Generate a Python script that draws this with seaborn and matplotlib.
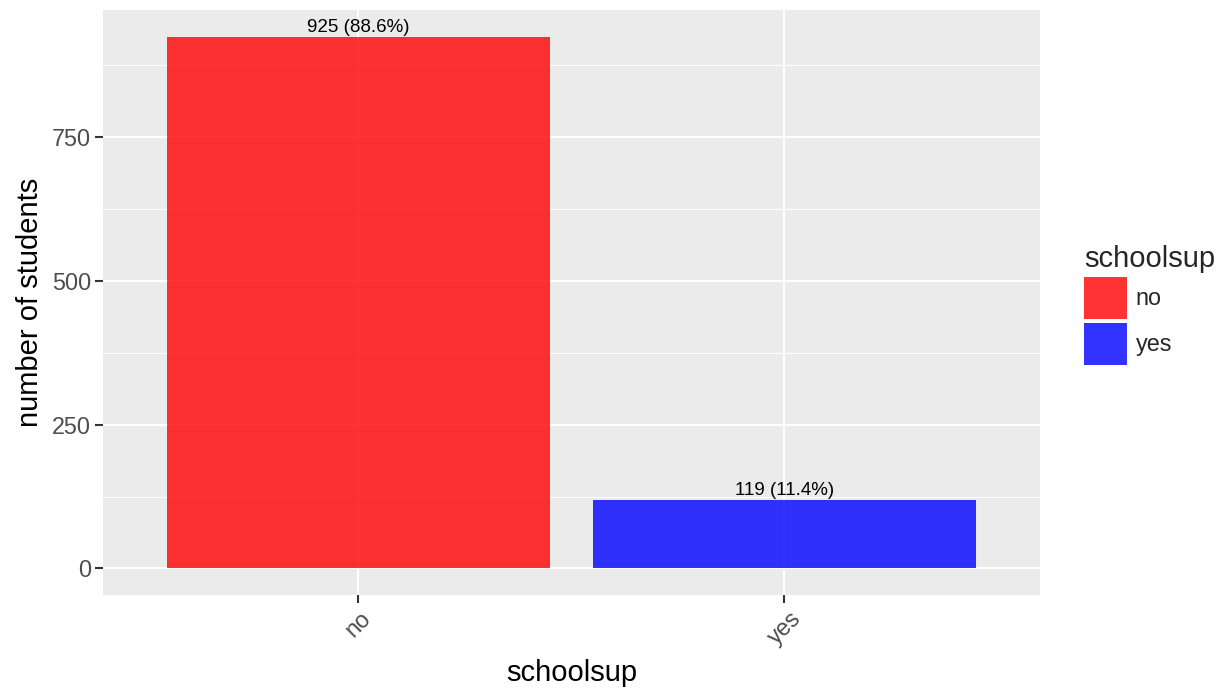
import matplotlib
matplotlib.use("Agg")
import matplotlib.pyplot as plt
from matplotlib.patches import Patch
from matplotlib.ticker import MultipleLocator
import seaborn as sns

# dados
categories = ["no", "yes"]
counts = [925, 119]
colors = {"no": "red", "yes": "blue"}

sns.set_theme(style="white")
plt.rcParams["font.family"] = ["Liberation Sans", "DejaVu Sans"]

total = sum(counts)
labels = [f"{c} ({c / total * 100:.1f}%)" for c in counts]

fig = plt.figure(figsize=(12.25, 6.89), dpi=100)
ax = fig.add_axes([0.084, 0.1364, 0.765, 0.8491])

sns.barplot(x=categories, y=counts, hue=categories, palette=colors,
            alpha=0.8, width=0.9, saturation=1, legend=False,
            linewidth=0, ax=ax)

for bar, lab in zip(ax.patches, labels):
    ax.text(bar.get_x() + bar.get_width() / 2, bar.get_height() + 1, lab,
            ha="center", va="bottom", fontsize=13.5, color="black")

ax.set_facecolor("#EBEBEB")
for s in ax.spines.values():
    s.set_visible(False)
ax.set_axisbelow(True)
ax.yaxis.set_major_locator(MultipleLocator(250))
ax.yaxis.set_minor_locator(MultipleLocator(125))
ax.grid(which="major", color="white", linewidth=1.5)
ax.grid(which="minor", axis="y", color="white", linewidth=0.75)
ax.set_ylim(-46.25, 971.25)
ax.set_xlim(-0.6, 1.6)

ax.tick_params(axis="both", which="major", length=5.5, width=1.5, color="#333333",
               labelsize=16.8, labelcolor="#4D4D4D", pad=3, bottom=True, left=True)
ax.tick_params(axis="both", which="minor", length=0)
for t in ax.get_xticklabels():
    t.set_rotation(45)
    t.set_ha("center")
    t.set_va("top")

ax.set_xlabel("schoolsup", fontsize=21, color="black", labelpad=7)
ax.set_ylabel("number of students", fontsize=21, color="black", labelpad=6)

handles = [Patch(facecolor=colors[c], alpha=0.8, edgecolor="none", label=c) for c in categories]
leg = fig.legend(handles=handles, title="schoolsup", loc="upper left",
                 bbox_to_anchor=(0.885, 0.645), frameon=False, fontsize=16.8,
                 title_fontsize=21, handlelength=1.85, handleheight=2.4,
                 labelspacing=0.17, handletextpad=0.35, borderaxespad=0,
                 borderpad=0)
leg._legend_box.align = "left"

fig.savefig("out.png", dpi=100)
